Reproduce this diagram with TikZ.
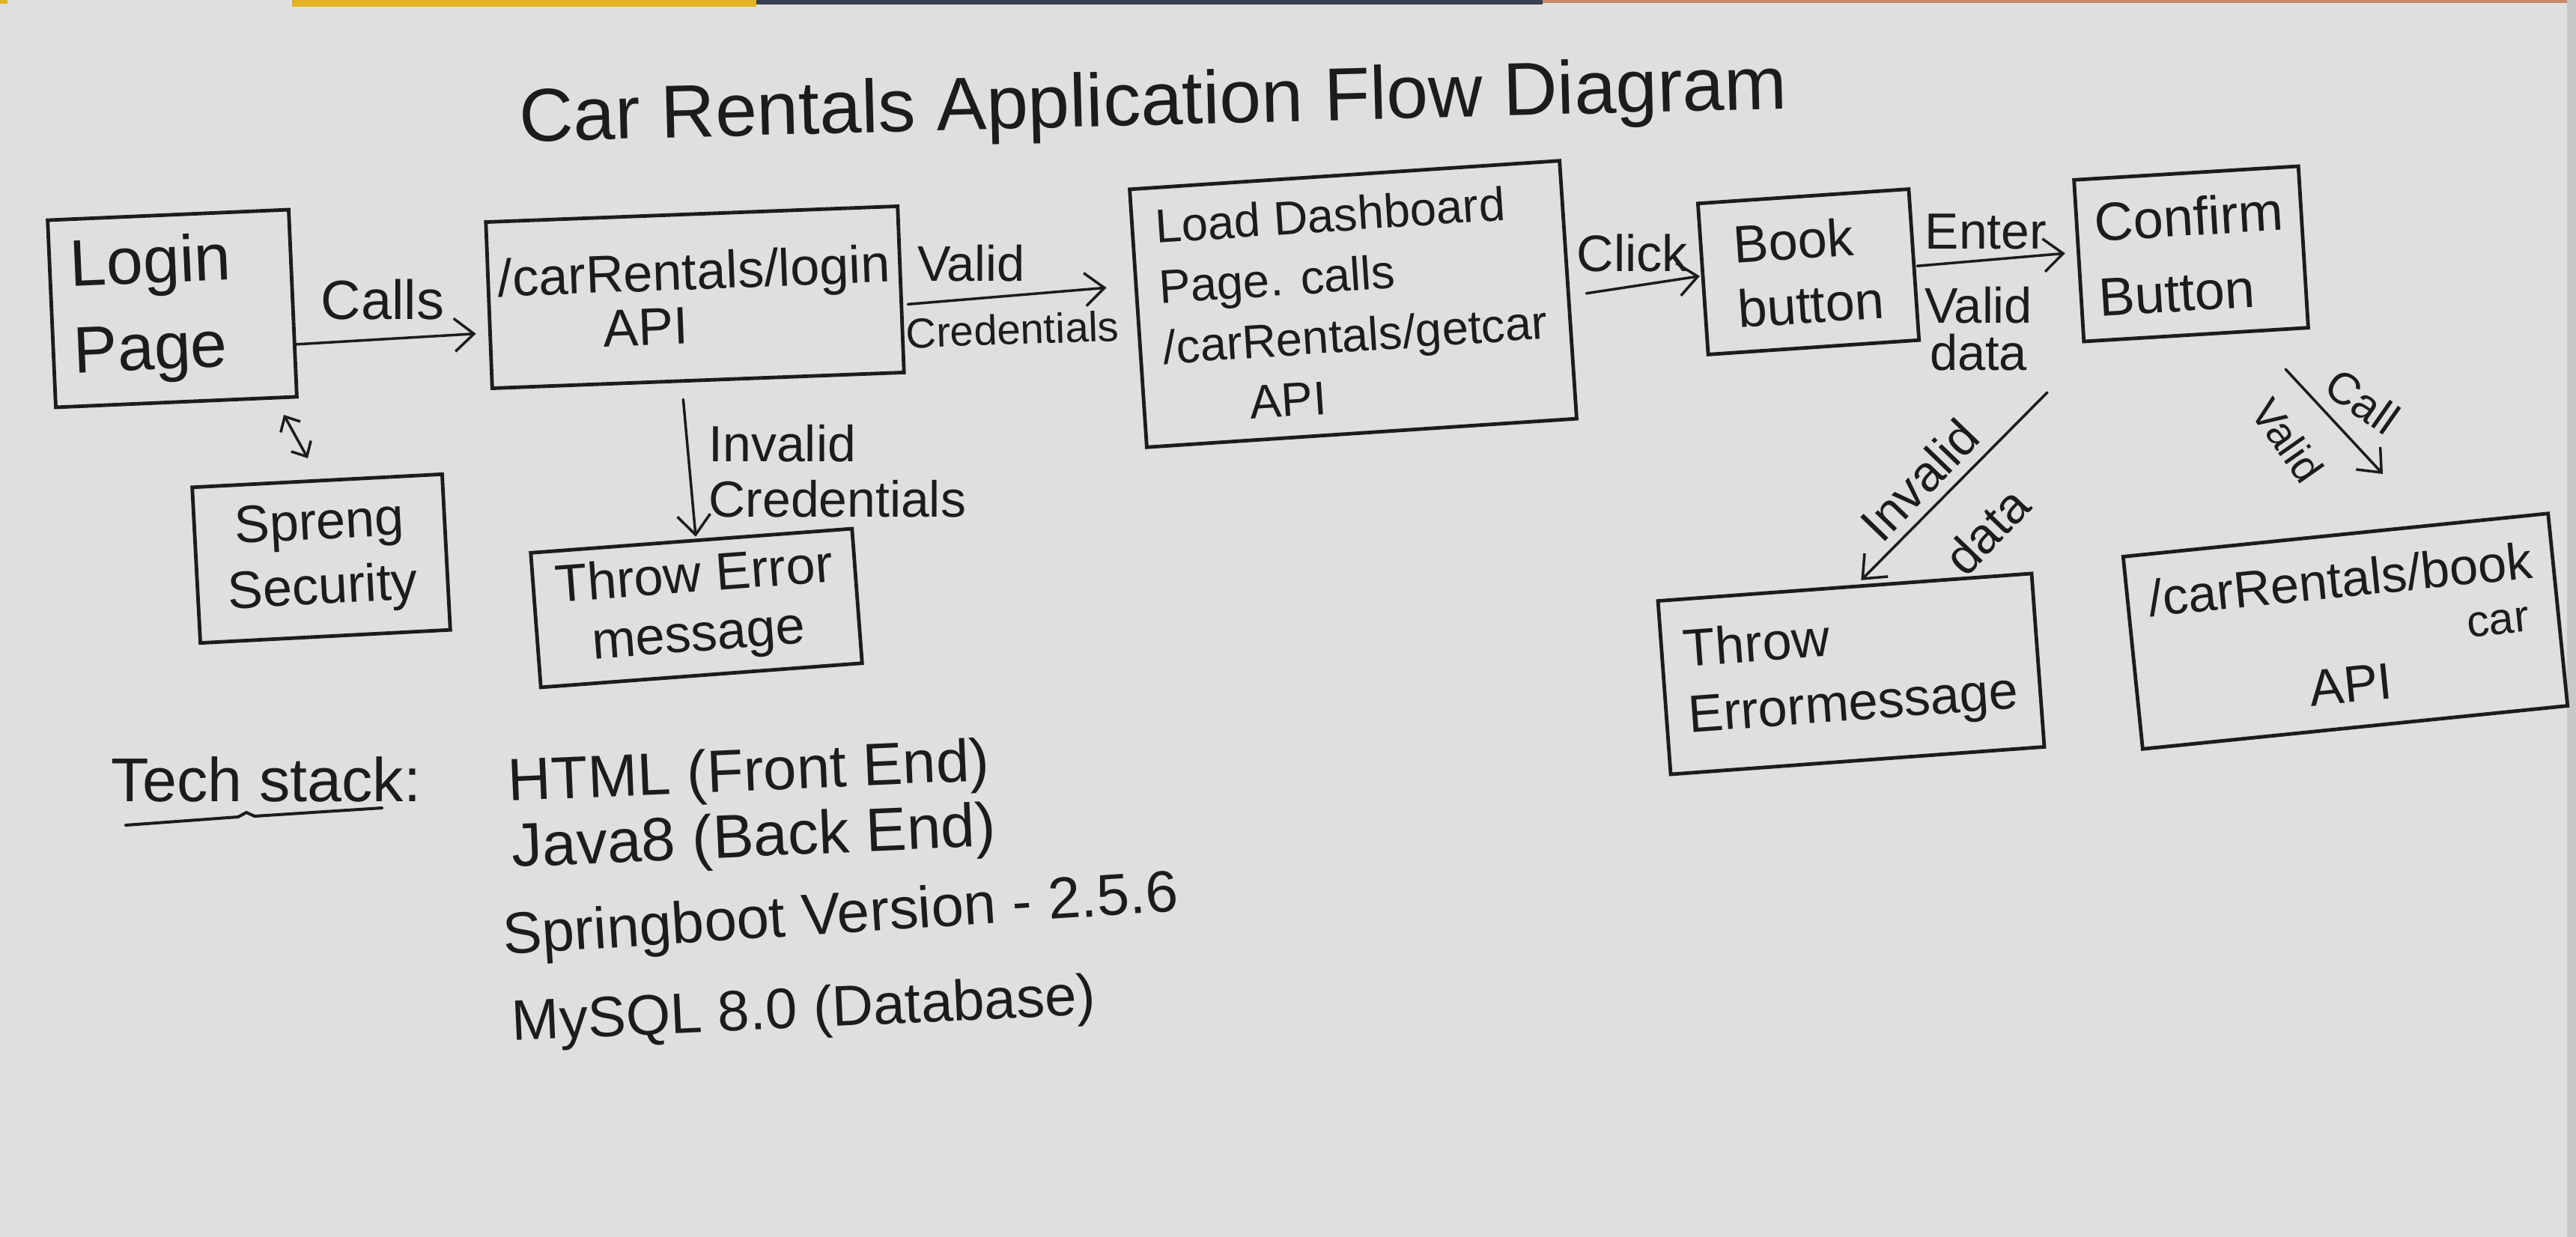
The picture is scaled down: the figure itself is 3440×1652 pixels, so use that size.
\documentclass[tikz,border=0pt]{standalone}
\usepackage{fontspec}
\setmainfont{Liberation Sans}
\usetikzlibrary{arrows.meta,calc}
\definecolor{inkc}{HTML}{1C1C1C}
\definecolor{paper}{HTML}{DFE0DD}
\definecolor{stripY}{HTML}{E3B322}
\definecolor{stripN}{HTML}{3A3F55}
\definecolor{stripO}{HTML}{C4876A}
\definecolor{edgec}{HTML}{C6C9C6}
\newcommand{\fsz}[2]{\fontsize{#1}{#2}\selectfont}
\begin{document}
\begin{tikzpicture}[x=0.01cm,y=-0.01cm,
  box/.style={draw=inkc, line width=0.048cm, rectangle, inner sep=0pt, text=inkc},
  conn/.style={draw=inkc, line width=0.035cm, line cap=round, -{Straight Barb[length=0.26cm,width=0.44cm]}},
  dconn/.style={draw=inkc, line width=0.035cm, {Straight Barb[length=0.16cm,width=0.3cm]}-{Straight Barb[length=0.16cm,width=0.3cm]}},
  lbl/.style={text=inkc, inner sep=0pt},
]
% paper
\fill[paper] (0,0) rectangle (3440,1652);
\useasboundingbox (0,0) rectangle (3440,1652);
\fill[stripY] (390,0) rectangle (1010,9);
\fill[stripY] (0,0) rectangle (10,5);
\fill[stripN] (1010,0) rectangle (2060,6);
\fill[stripO] (2060,0) rectangle (3440,4);
\fill[edgec] (3428,0) rectangle (3440,1652);

% title
\node[lbl, font=\fsz{28.5}{34}, anchor=base, rotate=1.5] (title) at (1541,167) {Car Rentals Application Flow Diagram};

% boxes
\node[box, minimum width=3.22cm, minimum height=2.50cm, rotate=2.5, align=left, font=\fsz{25}{33}] (login) at (230,412) {Login\hspace*{0.6em}\\Page};
\node[box, minimum width=5.50cm, minimum height=2.22cm, rotate=2.2, align=center, font=\fsz{20}{20.5}] (apiL) at (928,397) {/carRentals/login\\API\hspace*{1.9em}};
\node[box, minimum width=3.34cm, minimum height=2.08cm, rotate=3, align=center, font=\fsz{20}{24.7}] (spreng) at (429,746) {Spreng\\Security};
\node[box, minimum width=4.30cm, minimum height=1.80cm, rotate=4.3, align=center, font=\fsz{20}{22.5}] (err1) at (930,812) {Throw Error\\message};
\node[box, minimum width=5.75cm, minimum height=3.45cm, rotate=3.8, align=left, font=\fsz{18}{23}] (dash) at (1807,406) {Load Dashboard\\Page. calls\\/carRentals/getcar\\\hspace*{1.75em}API};
\node[box, minimum width=2.82cm, minimum height=2.02cm, rotate=3.9, align=left, font=\fsz{20}{24.5}] (book) at (2415,363) {Book\\button};
\node[box, minimum width=3.00cm, minimum height=2.16cm, rotate=3.5, align=left, font=\fsz{20.5}{28.5}] (confirm) at (2926,339) {Confirm\\Button};
\node[box, minimum width=5.00cm, minimum height=2.32cm, rotate=4.2, align=left, font=\fsz{20}{25}] (err2) at (2472,900) {Throw\\Errormessage};
\node[box, minimum width=5.70cm, minimum height=2.58cm, rotate=5.8, align=center, font=\fsz{19.5}{20}] (bookapi) at (3132,843) {/carRentals/book\\\hspace*{5.95em}{\fsz{17}{20}car}\\API};

% free-end coordinates
\coordinate (secA) at (379,554);
\coordinate (secB) at (411,612);
\coordinate (invS) at (2734,524);
\coordinate (callS) at (3052,493);
\coordinate (callE) at (3182,633);

% connectors
\draw[conn] ($(login.east)+(2,55)$) -- ($(apiL.west)+(-15,38)$);
\draw[conn] ($(apiL.east)+(7,20)$) -- ($(dash.west)+(-40,-41)$);
\draw[conn] ($(dash.east)+(22,5)$) -- ($(book.west)+(-2,-4)$);
\draw[conn] ($(book.east)+(2,2)$) -- ($(confirm.west)+(-16,-10)$);
\draw[conn] ($(apiL.south)+(-20,23)$) -- ($(err1.north)+(6,-3)$);
\draw[conn] (invS) -- ($(err2.north)+(22,-7)$);
\draw[conn] (callS) -- (callE);
\draw[dconn] (secA) -- (secB);

% labels
\node[lbl, font=\fsz{21}{25}] (lCalls) at (511,400) {Calls};
\node[lbl, font=\fsz{19}{23}] (lValid1) at (1297,352) {Valid};
\node[lbl, font=\fsz{16}{19}, rotate=2] (lCred1) at (1352,440) {Credentials};
\node[lbl, font=\fsz{19.3}{21}, align=left, anchor=north west] (lInv1) at (946,567) {Invalid\\Credentials};
\node[lbl, font=\fsz{19.5}{23}] (lClick) at (2180,338) {Click};
\node[lbl, font=\fsz{19.3}{23}] (lEnter) at (2652,309) {Enter};
\node[lbl, font=\fsz{19}{18}, align=center] (lVdata) at (2642,439) {Valid\\data};
\node[lbl, font=\fsz{19}{23}, rotate=46] (lInv2) at (2563,641) {Invalid};
\node[lbl, font=\fsz{19}{23}, rotate=46] (lData2) at (2653,709) {data};
\node[lbl, font=\fsz{17}{20}, rotate=-35] (lCall) at (3155,536) {Call};
\node[lbl, font=\fsz{16}{19}, rotate=-55] (lValid3) at (3055,588) {Valid};

% tech stack
\node[lbl, anchor=base west, font=\fsz{23.5}{28}] (tech) at (148,1070) {Tech stack:};
\draw[draw=inkc, line width=0.04cm, line cap=round, line join=round]
  ($(tech.base west)+(20,32)$) -- ($(tech.base west)+(170,21)$) -- ($(tech.base west)+(181,15)$) -- ($(tech.base west)+(192,20)$) -- ($(tech.base west)+(362,9)$);
\node[lbl, anchor=base west, rotate=2.5, font=\fsz{22.7}{27}] (s1) at (679,1070) {HTML (Front End)};
\node[lbl, anchor=base west, rotate=2.5, font=\fsz{23.3}{28}] (s2) at (684,1158) {Java8 (Back End)};
\node[lbl, anchor=base west, rotate=3.7, font=\fsz{22.2}{26}] (s3) at (673,1275) {Springboot Version - 2.5.6};
\node[lbl, anchor=base west, rotate=2.6, font=\fsz{21.7}{26}] (s4) at (684,1390) {MySQL 8.0 (Database)};
\end{tikzpicture}
\end{document}
